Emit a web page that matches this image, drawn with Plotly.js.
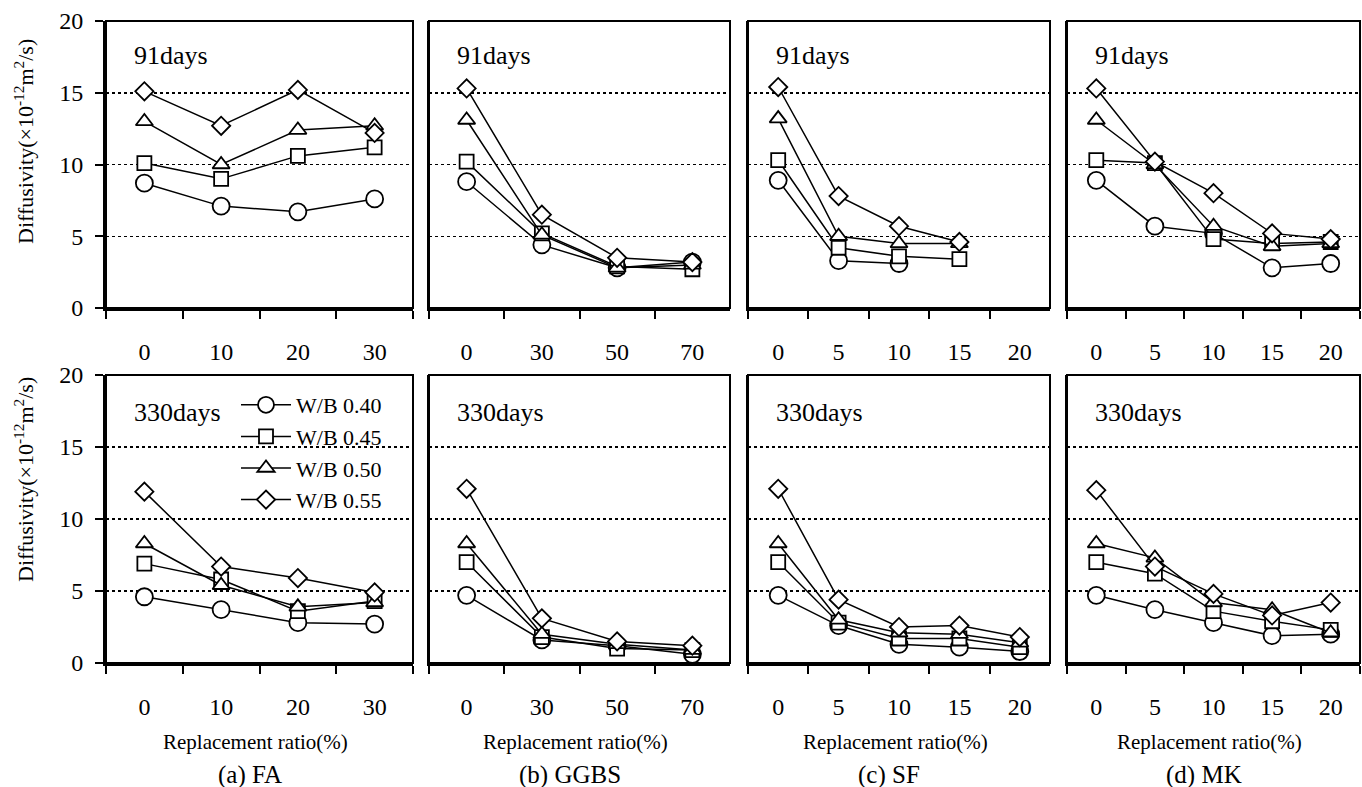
<!DOCTYPE html>
<html>
<head>
<meta charset="utf-8">
<script src="https://cdn.plot.ly/plotly-3.0.1.min.js"></script>
<style>
  html, body { margin: 0; padding: 0; background: #fff; }
  #chart { width: 1362px; height: 787px; }
</style>
</head>
<body>
<div id="chart"></div>
<script>
// ---------- DATA ----------
const seriesNames = ['W/B 0.40', 'W/B 0.45', 'W/B 0.50', 'W/B 0.55'];
const catFA   = ['0', '10', '20', '30'];
const catGGBS = ['0', '30', '50', '70'];
const catSF   = ['0', '5', '10', '15', '20'];
const catMK   = ['0', '5', '10', '15', '20'];
const panelLabels = ['(a) FA', '(b) GGBS', '(c) SF', '(d) MK'];
const xTitle = 'Replacement ratio(%)';
const yTitle = 'Diffusivity(×10<sup>-12</sup>m<sup>2</sup>/s)';
const ageLabels = ['91days', '330days'];
const yTicks = [0, 5, 10, 15, 20];

// 91 days
const fa91_040 = [8.7, 7.1, 6.7, 7.6];
const fa91_045 = [10.1, 9.0, 10.6, 11.2];
const fa91_050 = [13.0, 10.0, 12.4, 12.7];
const fa91_055 = [15.1, 12.7, 15.2, 12.2];

const gg91_040 = [8.8, 4.4, 2.8, 3.2];
const gg91_045 = [10.2, 5.2, 2.9, 2.7];
const gg91_050 = [13.1, 5.1, 2.8, 3.0];
const gg91_055 = [15.3, 6.5, 3.5, 3.2];

const sf91_040 = [8.9, 3.3, 3.1, null, null];
const sf91_045 = [10.3, 4.2, 3.6, 3.4, null];
const sf91_050 = [13.2, 5.0, 4.5, 4.5, null];
const sf91_055 = [15.4, 7.8, 5.7, 4.6, null];

const mk91_040 = [8.9, 5.7, 5.2, 2.8, 3.1];
const mk91_045 = [10.3, 10.1, 4.8, 4.5, 4.6];
const mk91_050 = [13.1, 10.0, 5.7, 4.3, 4.5];
const mk91_055 = [15.3, 10.2, 8.0, 5.2, 4.8];

// 330 days
const fa330_040 = [4.6, 3.7, 2.8, 2.7];
const fa330_045 = [6.9, 5.8, 3.6, 4.3];
const fa330_050 = [8.3, 5.4, 3.9, 4.2];
const fa330_055 = [11.9, 6.7, 5.9, 4.9];

const gg330_040 = [4.7, 1.6, 1.2, 0.6];
const gg330_045 = [7.0, 1.8, 1.0, 0.9];
const gg330_050 = [8.3, 2.0, 1.3, 0.9];
const gg330_055 = [12.1, 3.1, 1.5, 1.2];

const sf330_040 = [4.7, 2.6, 1.3, 1.1, 0.8];
const sf330_045 = [7.0, 2.8, 1.7, 1.7, 1.1];
const sf330_050 = [8.3, 3.0, 2.1, 2.0, 1.4];
const sf330_055 = [12.1, 4.4, 2.5, 2.6, 1.8];

const mk330_040 = [4.7, 3.7, 2.8, 1.9, 2.0];
const mk330_045 = [7.0, 6.2, 3.6, 2.9, 2.3];
const mk330_050 = [8.3, 7.3, 4.2, 3.7, 2.1];
const mk330_055 = [12.0, 6.7, 4.8, 3.3, 4.2];

// ---------- BUILD ----------
const W = 1362, H = 787;
const FONT = '"Liberation Serif", "Times New Roman", serif';
const panelPx = [[106, 413], [429, 730], [748, 1050], [1067, 1360]];
const rowPx = [[21, 308], [375, 663]];
const cats = [catFA, catGGBS, catSF, catMK];
const rows = [
  [[fa91_040, fa91_045, fa91_050, fa91_055],
   [gg91_040, gg91_045, gg91_050, gg91_055],
   [sf91_040, sf91_045, sf91_050, sf91_055],
   [mk91_040, mk91_045, mk91_050, mk91_055]],
  [[fa330_040, fa330_045, fa330_050, fa330_055],
   [gg330_040, gg330_045, gg330_050, gg330_055],
   [sf330_040, sf330_045, sf330_050, sf330_055],
   [mk330_040, mk330_045, mk330_050, mk330_055]]
];
const symbols = ['circle', 'square', 'triangle-up', 'diamond'];
const sizes = [17, 14, 15, 14];

const traces = [];
const layout = {
  width: W, height: H,
  margin: {l: 0, r: 0, t: 0, b: 0},
  paper_bgcolor: '#fff', plot_bgcolor: '#fff',
  font: {family: FONT, color: '#000', size: 22},
  showlegend: true,
  legend: {
    x: 236 / W, y: 1 - 384 / H, xanchor: 'left', yanchor: 'top',
    bgcolor: 'rgba(0,0,0,0)', borderwidth: 0,
    font: {family: FONT, size: 22, color: '#000'},
    itemwidth: 50, tracegroupgap: 0
  },
  annotations: [],
  shapes: []
};

let k = 0;
for (let r = 0; r < 2; r++) {
  for (let p = 0; p < 4; p++) {
    k++;
    const xa = 'xaxis' + (k === 1 ? '' : k);
    const ya = 'yaxis' + (k === 1 ? '' : k);
    const xr = 'x' + (k === 1 ? '' : k);
    const yr = 'y' + (k === 1 ? '' : k);
    const c = cats[p];
    layout[xa] = {
      domain: [panelPx[p][0] / W, panelPx[p][1] / W],
      anchor: yr,
      type: 'category',
      categoryorder: 'array', categoryarray: c,
      range: [-0.5, c.length - 0.5],
      tickson: 'boundaries',
      ticks: 'outside', ticklen: 8, tickwidth: 2, tickcolor: '#000',
      showline: true, linewidth: 3, linecolor: '#000',
      showgrid: false, zeroline: false,
      tickfont: {family: FONT, size: 24, color: '#000'},
      ticklabelstandoff: 20,
      fixedrange: true
    };
    layout[ya] = {
      domain: [1 - rowPx[r][1] / H, 1 - rowPx[r][0] / H],
      anchor: xr,
      range: [0, 20],
      tickvals: yTicks,
      showticklabels: p === 0,
      ticks: p === 0 ? 'outside' : '',
      ticklen: 8, tickwidth: 2, tickcolor: '#000',
      showline: true, linewidth: p === 0 ? 3 : 2, linecolor: '#000',
      showgrid: true, gridcolor: '#000', gridwidth: 1.5, griddash: 'dot',
      zeroline: false,
      tickfont: {family: FONT, size: 24, color: '#000'},
      ticklabelstandoff: 7,
      fixedrange: true
    };
    layout.shapes.push({
      type: 'rect', xref: xr + ' domain', yref: yr + ' domain',
      x0: 0, x1: 1, y0: 0, y1: 1,
      line: {color: '#000', width: 2}, fillcolor: 'rgba(0,0,0,0)', layer: 'above'
    });
    for (let s = 0; s < 4; s++) {
      traces.push({
        type: 'scatter', mode: 'lines+markers',
        x: c, y: rows[r][p][s],
        xaxis: xr, yaxis: yr,
        name: seriesNames[s],
        legendgroup: seriesNames[s],
        showlegend: (r === 1 && p === 0),
        connectgaps: false,
        line: {color: '#000', width: 1.5},
        marker: {symbol: symbols[s], size: sizes[s], color: '#fff',
                 line: {color: '#000', width: 1.8}},
        hoverinfo: 'skip'
      });
    }
    layout.annotations.push({
      text: ageLabels[r], xref: 'paper', yref: 'paper',
      x: (panelPx[p][0] + 26) / W, y: 1 - (r === 0 ? 55 : 412) / H,
      xanchor: 'left', yanchor: 'middle', showarrow: false,
      font: {family: FONT, size: 26, color: '#000'}
    });
    if (r === 1) {
      const cx = (panelPx[p][0] + panelPx[p][1]) / 2;
      layout.annotations.push({
        text: xTitle, xref: 'paper', yref: 'paper',
        x: (cx - 4) / W, y: 1 - 742 / H, xanchor: 'center', yanchor: 'middle',
        showarrow: false, font: {family: FONT, size: 21, color: '#000'}
      });
      layout.annotations.push({
        text: panelLabels[p], xref: 'paper', yref: 'paper',
        x: (cx - 10) / W, y: 1 - 775 / H, xanchor: 'center', yanchor: 'middle',
        showarrow: false, font: {family: FONT, size: 25, color: '#000'}
      });
    }
  }
}
[142, 480].forEach(function (yc) {
  layout.annotations.push({
    text: yTitle, xref: 'paper', yref: 'paper',
    x: 24 / W, y: 1 - yc / H, xanchor: 'center', yanchor: 'middle',
    textangle: -90, showarrow: false,
    font: {family: FONT, size: 22, color: '#000'}
  });
});

Plotly.newPlot('chart', traces, layout, {displayModeBar: false, staticPlot: true});
</script>
</body>
</html>
